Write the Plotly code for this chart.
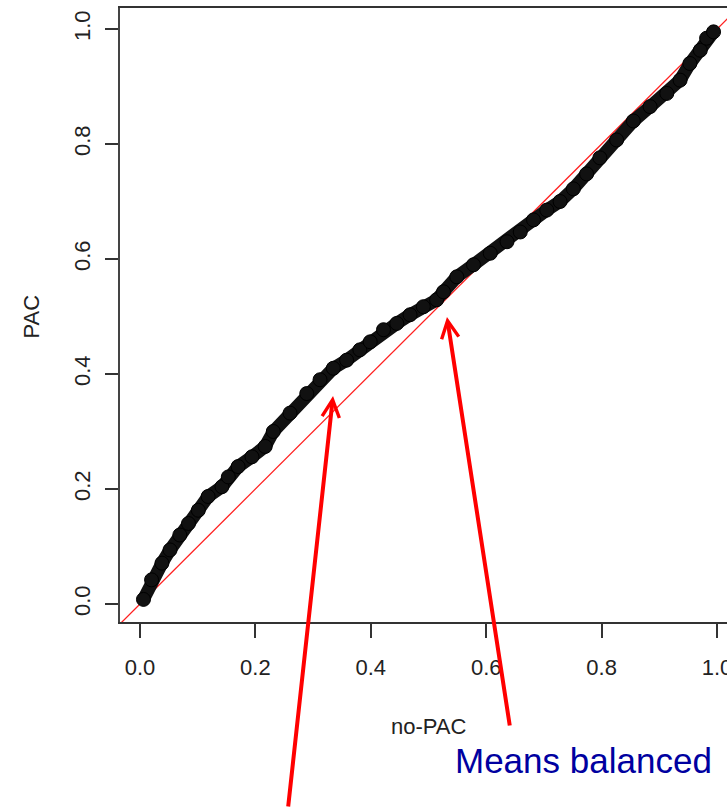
import plotly.graph_objects as go

# QQ-type data (no-PAC quantiles vs PAC quantiles)
x_nopac = [0.006, 0.020, 0.038, 0.052, 0.069, 0.084, 0.101, 0.118, 0.142, 0.153,
           0.170, 0.194, 0.217, 0.231, 0.260, 0.289, 0.312, 0.335, 0.358, 0.381,
           0.399, 0.422, 0.445, 0.468, 0.491, 0.514, 0.526, 0.549, 0.578, 0.607,
           0.636, 0.659, 0.682, 0.705, 0.728, 0.751, 0.774, 0.797, 0.826, 0.855,
           0.884, 0.913, 0.936, 0.953, 0.971, 0.982, 0.994]
y_pac = [0.008, 0.042, 0.071, 0.094, 0.120, 0.140, 0.163, 0.187, 0.204, 0.221,
         0.239, 0.256, 0.274, 0.300, 0.332, 0.366, 0.390, 0.410, 0.424, 0.442,
         0.456, 0.477, 0.488, 0.503, 0.517, 0.529, 0.543, 0.569, 0.590, 0.610,
         0.630, 0.647, 0.668, 0.685, 0.700, 0.722, 0.748, 0.776, 0.807, 0.840,
         0.865, 0.888, 0.911, 0.940, 0.963, 0.984, 0.995]

tick_vals = [0.0, 0.2, 0.4, 0.6, 0.8, 1.0]
tick_text = ["0.0", "0.2", "0.4", "0.6", "0.8", "1.0"]
ref_line = [-0.2, 1.2]

x_title = "no-PAC"
y_title = "PAC"
note_text = "Means balanced"

FONT = "Liberation Sans, Arial, Helvetica, sans-serif"

fig = go.Figure()

# reference diagonal y = x
fig.add_trace(go.Scatter(x=ref_line, y=ref_line, mode="lines",
                         line=dict(color="#ff2020", width=1.3),
                         hoverinfo="skip", showlegend=False))

# thick band of points
fig.add_trace(go.Scatter(x=x_nopac, y=y_pac, mode="lines+markers",
                         line=dict(color="#111111", width=13),
                         marker=dict(symbol="circle", size=14, color="#111111",
                                     line=dict(color="#000000", width=1)),
                         hoverinfo="skip", showlegend=False))

W, H = 727, 808
L, T, B = 120, 8, 186

fig.update_layout(
    width=W, height=H,
    margin=dict(l=L, r=0, t=T, b=B, pad=0),
    paper_bgcolor="white", plot_bgcolor="white",
    font=dict(family=FONT, size=22, color="#222222"),
    showlegend=False,
    xaxis=dict(range=[-0.0347, 1.0173], tickmode="array", tickvals=tick_vals,
               ticktext=tick_text, ticks="outside", ticklen=14, tickwidth=1.5,
               tickcolor="#333333", showline=True, linecolor="#333333",
               linewidth=1.5, mirror=True, showgrid=False, zeroline=False,
               ticklabelstandoff=11, automargin=False, ticklabeloverflow="allow",
               tickfont=dict(family=FONT, size=22, color="#222222")),
    yaxis=dict(range=[-0.0313, 1.0365], tickmode="array", tickvals=tick_vals,
               ticktext=tick_text, ticks="outside", ticklen=13, tickwidth=1.5,
               tickcolor="#333333", showline=True, linecolor="#444444",
               linewidth=1.5, mirror=False, showgrid=False, zeroline=False,
               tickangle=-90, ticklabelstandoff=6, automargin=False,
               ticklabeloverflow="allow",
               tickfont=dict(family=FONT, size=22, color="#222222")),
)

plot_w = W - L
plot_h = H - T - B


def px_to_paper_x(px):
    return (px - L) / plot_w


def px_to_paper_y(py):
    return (H - B - py) / plot_h


# axis titles
fig.add_annotation(text=x_title, xref="x", yref="paper", x=0.5,
                   y=px_to_paper_y(726), showarrow=False, xanchor="center",
                   yanchor="middle", font=dict(family=FONT, size=22, color="#222222"))
fig.add_annotation(text=y_title, xref="paper", yref="y", x=px_to_paper_x(31),
                   y=0.5, showarrow=False, textangle=-90, xanchor="center",
                   yanchor="middle", font=dict(family=FONT, size=22, color="#222222"))

# blue note
fig.add_annotation(text=note_text, xref="paper", yref="paper",
                   x=px_to_paper_x(453), y=px_to_paper_y(760), showarrow=False,
                   xanchor="left", yanchor="middle",
                   font=dict(family=FONT, size=35, color="#0000a0"))

# red arrows
fig.add_annotation(text="", x=0.3345, y=0.3617, xref="x", yref="y",
                   ax=-45, ay=430, axref="pixel", ayref="pixel",
                   showarrow=True, arrowhead=5, arrowsize=0.85, arrowwidth=4,
                   arrowcolor="#ff0000", standoff=0)
fig.add_annotation(text="", x=0.532, y=0.499, xref="x", yref="y",
                   ax=63, ay=410, axref="pixel", ayref="pixel",
                   showarrow=True, arrowhead=5, arrowsize=0.85, arrowwidth=4,
                   arrowcolor="#ff0000", standoff=0)

fig.write_html("out.html", config={"displayModeBar": False})
